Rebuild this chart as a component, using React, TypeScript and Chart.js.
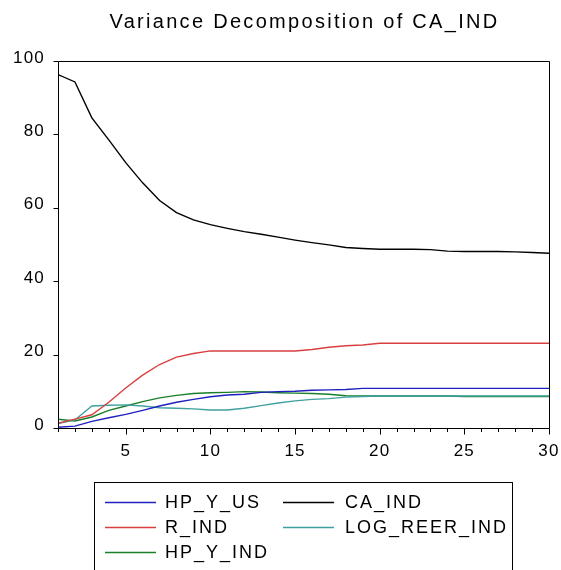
import React, { useEffect, useRef } from 'react';
import { Chart, registerables } from 'chart.js';

Chart.register(...registerables);

const titleText = 'Variance Decomposition of CA_IND';
const periods = [1, 2, 3, 4, 5, 6, 7, 8, 9, 10, 11, 12, 13, 14, 15, 16, 17, 18, 19, 20, 21, 22, 23, 24, 25, 26, 27, 28, 29, 30];
const xLabelTicks = [5, 10, 15, 20, 25, 30];
const yTicks = [0, 20, 40, 60, 80, 100];

const hpYUs = [0.2, 0.5, 1.8, 2.8, 3.7, 4.8, 6.0, 7.0, 7.8, 8.5, 9.0, 9.2, 9.7, 9.9, 10.0, 10.3, 10.4, 10.5, 10.8, 10.8, 10.8, 10.8, 10.8, 10.8, 10.8, 10.8, 10.8, 10.8, 10.8, 10.8];
const caInd = [96.3, 94.3, 84.5, 78.5, 72.3, 66.8, 62.0, 58.7, 56.7, 55.4, 54.4, 53.5, 52.8, 52.0, 51.2, 50.5, 49.9, 49.2, 48.9, 48.7, 48.7, 48.7, 48.6, 48.2, 48.1, 48.1, 48.1, 48.0, 47.8, 47.6];
const rInd = [1.3, 2.4, 3.6, 7.0, 10.9, 14.4, 17.3, 19.3, 20.3, 21.0, 21.0, 21.0, 21.0, 21.0, 21.0, 21.4, 22.0, 22.4, 22.6, 23.1, 23.1, 23.1, 23.1, 23.1, 23.1, 23.1, 23.1, 23.1, 23.1, 23.1];
const logReerInd = [1.2, 2.2, 6.0, 6.2, 6.3, 6.0, 5.5, 5.4, 5.2, 4.9, 4.9, 5.4, 6.1, 6.8, 7.4, 7.8, 8.0, 8.4, 8.6, 8.7, 8.7, 8.7, 8.7, 8.7, 8.7, 8.7, 8.7, 8.7, 8.7, 8.7];
const hpYInd = [2.4, 1.9, 3.0, 4.8, 6.0, 7.2, 8.2, 8.9, 9.4, 9.6, 9.7, 9.9, 9.8, 9.6, 9.5, 9.4, 9.2, 8.8, 8.7, 8.7, 8.7, 8.7, 8.7, 8.7, 8.6, 8.6, 8.6, 8.6, 8.6, 8.6];

const seriesNames = ['HP_Y_US', 'CA_IND', 'R_IND', 'LOG_REER_IND', 'HP_Y_IND'];
const seriesValues = [hpYUs, caInd, rInd, logReerInd, hpYInd];
const seriesColors = ['#2020c0', '#000000', '#d84040', '#40a0a0', '#1a7f2a'];

const FONT = '"Liberation Sans", Arial, sans-serif';

const framePlugin = {
  id: 'frame',
  beforeDraw(chart: any) {
    (chart.ctx as any).letterSpacing = '1.2px';
  },
  afterDraw(chart: any) {
    const { ctx, chartArea: a, scales } = chart;
    ctx.save();
    ctx.strokeStyle = '#000';
    ctx.lineWidth = 1;
    const L = Math.round(a.left) + 0.5;
    const T = Math.round(a.top) + 0.5;
    const R = Math.round(a.right) + 0.5;
    const B = Math.round(a.bottom) + 0.5;
    ctx.beginPath();
    ctx.moveTo(L, T); ctx.lineTo(R, T); ctx.lineTo(R, B); ctx.lineTo(L, B); ctx.closePath();
    ctx.stroke();
    ctx.beginPath();
    for (const p of periods) {
      const px = Math.round(scales.x.getPixelForValue(p)) + 0.5;
      const len = xLabelTicks.includes(p) ? 6 : 3.5;
      ctx.moveTo(px, B); ctx.lineTo(px, B + len);
    }
    for (const v of yTicks) {
      const py = Math.round(scales.y.getPixelForValue(v)) + 0.5;
      ctx.moveTo(L - 5, py); ctx.lineTo(L, py);
    }
    ctx.stroke();

    // title
    (ctx as any).letterSpacing = '2.3px';
    ctx.font = '20px ' + FONT;
    ctx.fillStyle = '#000';
    ctx.textAlign = 'center';
    ctx.textBaseline = 'middle';
    ctx.fillText(titleText, (a.left + a.right) / 2 + 1, 22);

    // legend
    const lx = 94.5, ly = 482.5, lw = 418, lh = 120;
    ctx.strokeRect(lx, ly, lw, lh);
    (ctx as any).letterSpacing = '2px';
    ctx.font = '18px ' + FONT;
    ctx.textAlign = 'left';
    const colLine = [105, 283];
    const colText = [165, 345];
    const rowY = [502, 527, 552];
    chart.data.datasets.forEach((ds: any, i: number) => {
      const col = i % 2;
      const row = Math.floor(i / 2);
      const y = rowY[row];
      ctx.strokeStyle = ds.borderColor;
      ctx.lineWidth = 1.5;
      ctx.beginPath();
      ctx.moveTo(colLine[col], y + 0.5);
      ctx.lineTo(colLine[col] + 51, y + 0.5);
      ctx.stroke();
      ctx.fillStyle = '#000';
      ctx.fillText(ds.label, colText[col], y + 1);
    });
    ctx.restore();
  },
};

export default function App() {
  const ref = useRef<HTMLCanvasElement | null>(null);
  useEffect(() => {
    if (!ref.current) return;
    const chart = new Chart(ref.current, {
      type: 'line',
      data: {
        datasets: seriesNames.map((name, i) => ({
          label: name,
          data: periods.map((p, j) => ({ x: p, y: seriesValues[i][j] })),
          borderColor: seriesColors[i],
          backgroundColor: seriesColors[i],
          borderWidth: 1.4,
          pointRadius: 0,
          tension: 0,
          fill: false,
        })),
      },
      options: {
        animation: false,
        responsive: false,
        maintainAspectRatio: false,
        layout: { padding: { top: 61, right: 12, left: 0, bottom: 0 } },
        plugins: {
          legend: { display: false },
          title: { display: false },
          tooltip: { enabled: false },
        },
        scales: {
          x: {
            type: 'linear',
            min: 1,
            max: 30,
            grid: { display: false, drawTicks: false },
            border: { display: false },
            ticks: {
              stepSize: 1,
              autoSkip: false,
              maxRotation: 0,
              padding: 13,
              color: '#000',
              font: { size: 17, family: FONT },
              callback: (v: any) => (xLabelTicks.includes(Number(v)) ? String(v) : ''),
            },
            afterFit: (s: any) => { s.height = 142; s.paddingLeft = 0; s.paddingRight = 0; },
          },
          y: {
            min: 0,
            max: 100,
            grid: { display: false, drawTicks: false },
            border: { display: false },
            ticks: {
              stepSize: 20,
              padding: 13,
              labelOffset: -3,
              color: '#000',
              font: { size: 17, family: FONT },
            },
            afterFit: (s: any) => { s.width = 58; s.paddingTop = 0; s.paddingBottom = 0; },
          },
        },
      },
      plugins: [framePlugin],
    } as any);
    return () => chart.destroy();
  }, []);
  return (
    <div style={{ position: 'absolute', left: 0, top: 0, width: 561, height: 570, background: '#fff' }}>
      <canvas ref={ref} width={561} height={570} style={{ display: 'block', width: 561, height: 570 }} />
    </div>
  );
}
